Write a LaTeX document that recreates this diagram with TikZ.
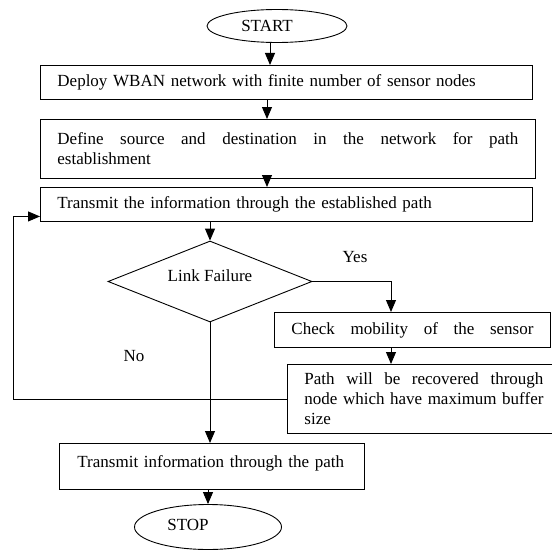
\documentclass[tikz,border=0pt]{standalone}
\usepackage{fontspec}
\setmainfont{Liberation Serif}
\usetikzlibrary{shapes.geometric,arrows.meta,calc}
\begin{document}
\begin{tikzpicture}[x=1pt,y=-1pt,
  every node/.style={font=\fontsize{17pt}{20pt}\selectfont},
  box/.style={draw, line width=0.9pt, rectangle, anchor=north west, inner ysep=0pt, inner xsep=17pt},
  oval/.style={draw, line width=0.9pt, ellipse, inner sep=0pt},
  arr/.style={draw, line width=0.9pt, -{Triangle[length=12pt,width=10pt]}},
]
\useasboundingbox (0,0) rectangle (551,551);
\hyphenpenalty=10000
% nodes
\node[oval, minimum width=140, minimum height=33, label={[xshift=-10pt]center:START}] (start) at (277,26) {};
\node[box, text width=458pt, minimum height=34, align=left] (b1) at (40,65) {Deploy WBAN network with finite number of sensor nodes};
\node[box, text width=461pt, minimum height=59, align=justify] (b2) at (40,119) {Define source and destination in the network for path\linebreak establishment};
\node[box, text width=458pt, minimum height=34, align=left] (b3) at (40,187) {Transmit the information through the established path};
\node[draw, line width=0.9pt, diamond, inner sep=0pt, minimum width=204, minimum height=81, label={[yshift=6pt]center:Link Failure}] (dia) at (210,281.5) {};
\node[box, text width=242pt, minimum height=35] (chk) at (274,312) {\hbox to 242pt{Check\hfill mobility\hfill of\hfill the\hfill sensor}};
\node[box, text width=239pt, minimum height=69, align=justify] (pb) at (287,364) {Path will be recovered through\linebreak node which have maximum buffer\linebreak size};
\node[box, inner xsep=18pt, text width=269pt, minimum height=46, text depth=9pt, align=left] (b4) at (59,443) {Transmit information through the path};
\node[oval, minimum width=147, minimum height=45, label={[xshift=-20pt,yshift=2pt]center:STOP}] (stop) at (208,527) {};
\node (yes) at (355,257) {Yes};
\node (no) at (134,356) {No};
% helper coordinates
\coordinate (ax0) at (270,0);
\coordinate (ax) at (267,0);
\coordinate (ry) at (391,0);
\coordinate (lx) at (13,0);
\coordinate (b3in) at ([yshift=-12pt]b3.west);
% connectors
\draw[arr] (start.south -| ax0) -- (b1.north -| ax0);
\draw[arr] (b1.south -| ax) -- (b2.north -| ax);
\draw[arr] (b2.south -| ax) -- (b3.north -| ax);
\draw[arr] (b3.south -| dia.north) -- (dia.north);
\draw[arr] (dia.east) -| (chk.north -| ry);
\draw[arr] (chk.south -| ry) -- (pb.north -| ry);
\draw[arr] (dia.south) -- (dia.south |- b4.north);
\draw[arr] (b4.south -| stop.north) -- (stop.north);
\draw[arr] (pb.west) -- (pb.west -| lx) -- (lx |- b3in) -- (b3in);
\end{tikzpicture}
\end{document}
